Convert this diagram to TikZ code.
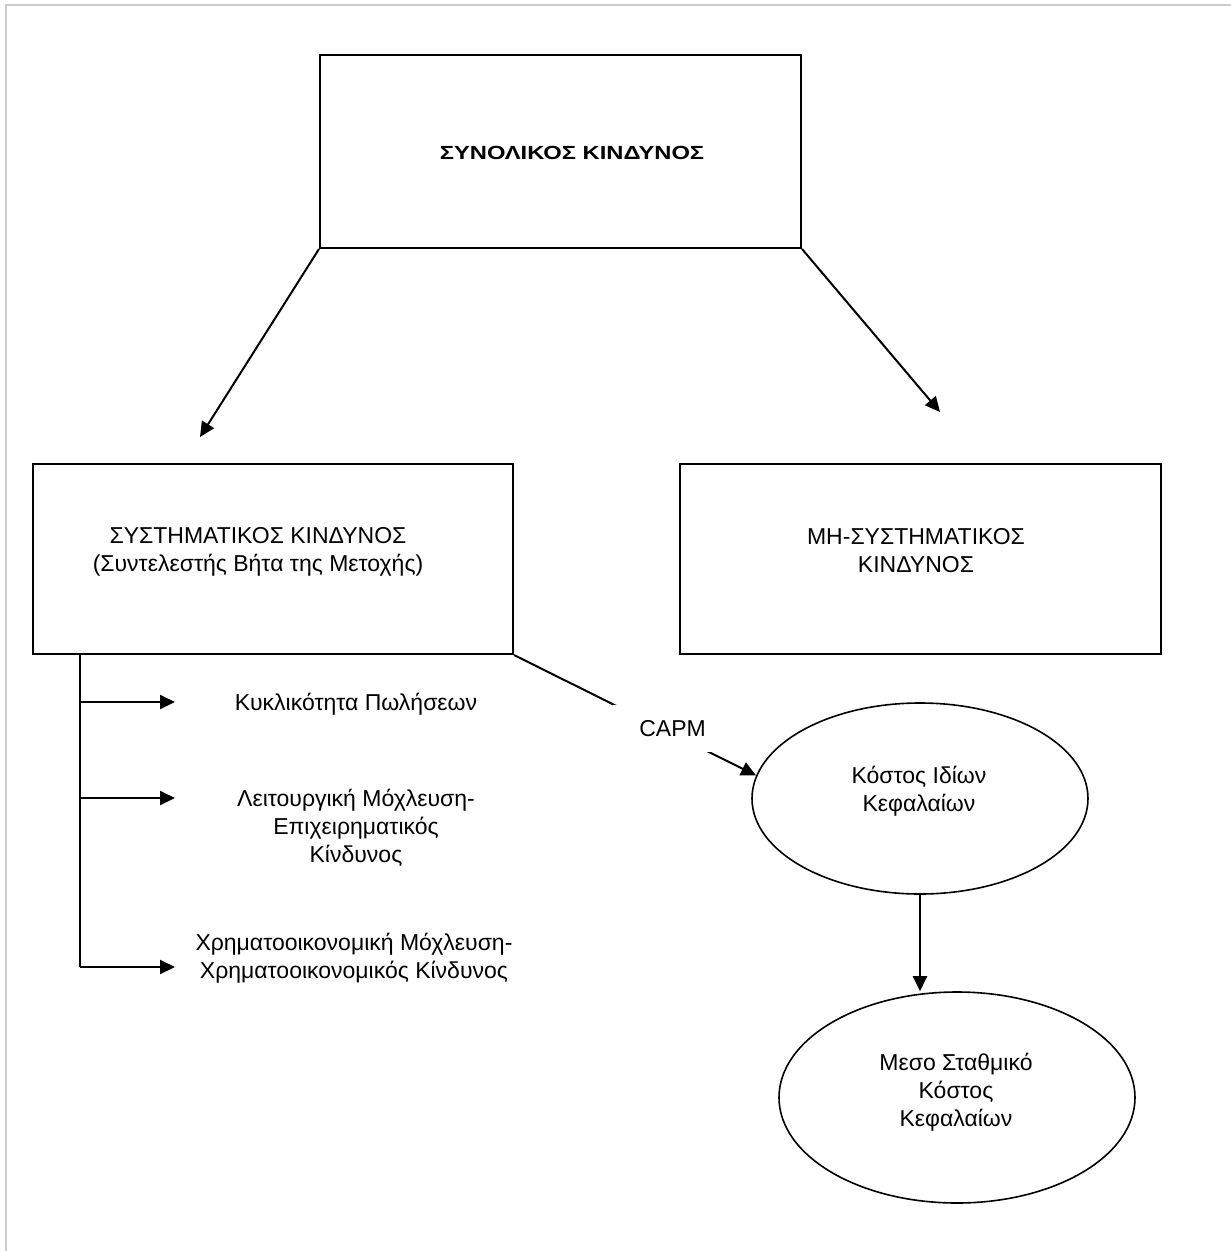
\documentclass[tikz,border=0pt]{standalone}
\usepackage{fontspec}
\setmainfont{Liberation Sans}
\usepackage{graphicx}
\usetikzlibrary{arrows.meta,shapes.geometric}
\begin{document}
\begin{tikzpicture}[x=1pt,y=-1pt,
  box/.style={draw, line width=2pt, fill=white, inner sep=0pt, anchor=north west},
  ell/.style={draw, ellipse, line width=1.6pt, fill=white, inner sep=0pt},
  txt/.style={font=\fontsize{23}{28}\selectfont, align=center, inner sep=0pt, anchor=north},
  capm/.style={fill=white, minimum width=120pt, minimum height=47pt, inner sep=0pt, font=\fontsize{23}{28}\selectfont},
  conn/.style={line width=2pt},
  arr/.style={line width=2pt, -{Triangle[length=15pt,width=14pt]}},
  frame/.style={draw=black!20, line width=1.5pt}
]
\useasboundingbox (0,0) rectangle (1231,1251);
\fill[white] (0,0) rectangle (1231,1251);
\draw[frame] (6,1251) -- (6,5) -- (1231,5);

% boxes
\node[box, minimum width=481pt, minimum height=193pt] (top) at (319,54) {};
\node[box, minimum width=480pt, minimum height=190pt] (sys) at (32,463) {};
\node[box, minimum width=481pt, minimum height=190pt] (nsys) at (679,463) {};

% ellipses
\node[ell, minimum width=336pt, minimum height=191pt] (ke) at (920,798.5) {};
\node[ell, minimum width=356pt, minimum height=211pt] (mk) at (957,1097.5) {};

% texts
\node[inner sep=0pt, anchor=north, font=\fontsize{19}{23}\selectfont\bfseries] (topT) at (572,142.9)
  {\strut\scalebox{1.25}[1]{ΣΥΝΟΛΙΚΟΣ ΚΙΝΔΥΝΟΣ}};
\node[txt] (sysT) at (258,523.4) {\strut ΣΥΣΤΗΜΑΤΙΚΟΣ ΚΙΝΔΥΝΟΣ\\\strut (Συντελεστής Βήτα της Μετοχής)};
\node[txt] (nsysT) at (916,524.4) {\strut ΜΗ-ΣΥΣΤΗΜΑΤΙΚΟΣ\\\strut ΚΙΝΔΥΝΟΣ};
\node[txt] (k1) at (356,690.4) {\strut Κυκλικότητα Πωλήσεων};
\node[txt] (k2) at (356,786.4) {\strut Λειτουργική Μόχλευση-\\\strut Επιχειρηματικός\\\strut Κίνδυνος};
\node[txt] (k3) at (354,930.4) {\strut Χρηματοοικονομική Μόχλευση-\\\strut Χρηματοοικονομικός Κίνδυνος};
\node[txt] (keT) at (919,763.4) {\strut Κόστος Ιδίων\\\strut Κεφαλαίων};
\node[txt] (mkT) at (956,1050.4) {\strut Μεσο Σταθμικό\\\strut Κόστος\\\strut Κεφαλαίων};

% free ends
\coordinate (tipL) at (200,437);
\coordinate (tipR) at (940,412);
\coordinate (tr0) at (80,653);
\coordinate (tr3) at (80,967);
\coordinate (b1s) at (80,702);
\coordinate (b1e) at (175,702);
\coordinate (b2s) at (80,798);
\coordinate (b2e) at (175,798);
\coordinate (b3s) at (80,967);
\coordinate (b3e) at (175,967);

% connectors
\draw[arr] (top.south west) -- (tipL);
\draw[arr] (top.south east) -- (tipR);
\draw[conn] (tr0) -- (tr3);
\draw[arr] (b1s) -- (b1e);
\draw[arr] (b2s) -- (b2e);
\draw[arr] (b3s) -- (b3e);
\draw[arr] (sys.south east) -- node[capm, pos=0.655, yshift=5pt] (capmL) {CAPM} (ke.172);
\draw[arr] (ke.south) -- (ke.south |- mk.north);
\end{tikzpicture}
\end{document}
